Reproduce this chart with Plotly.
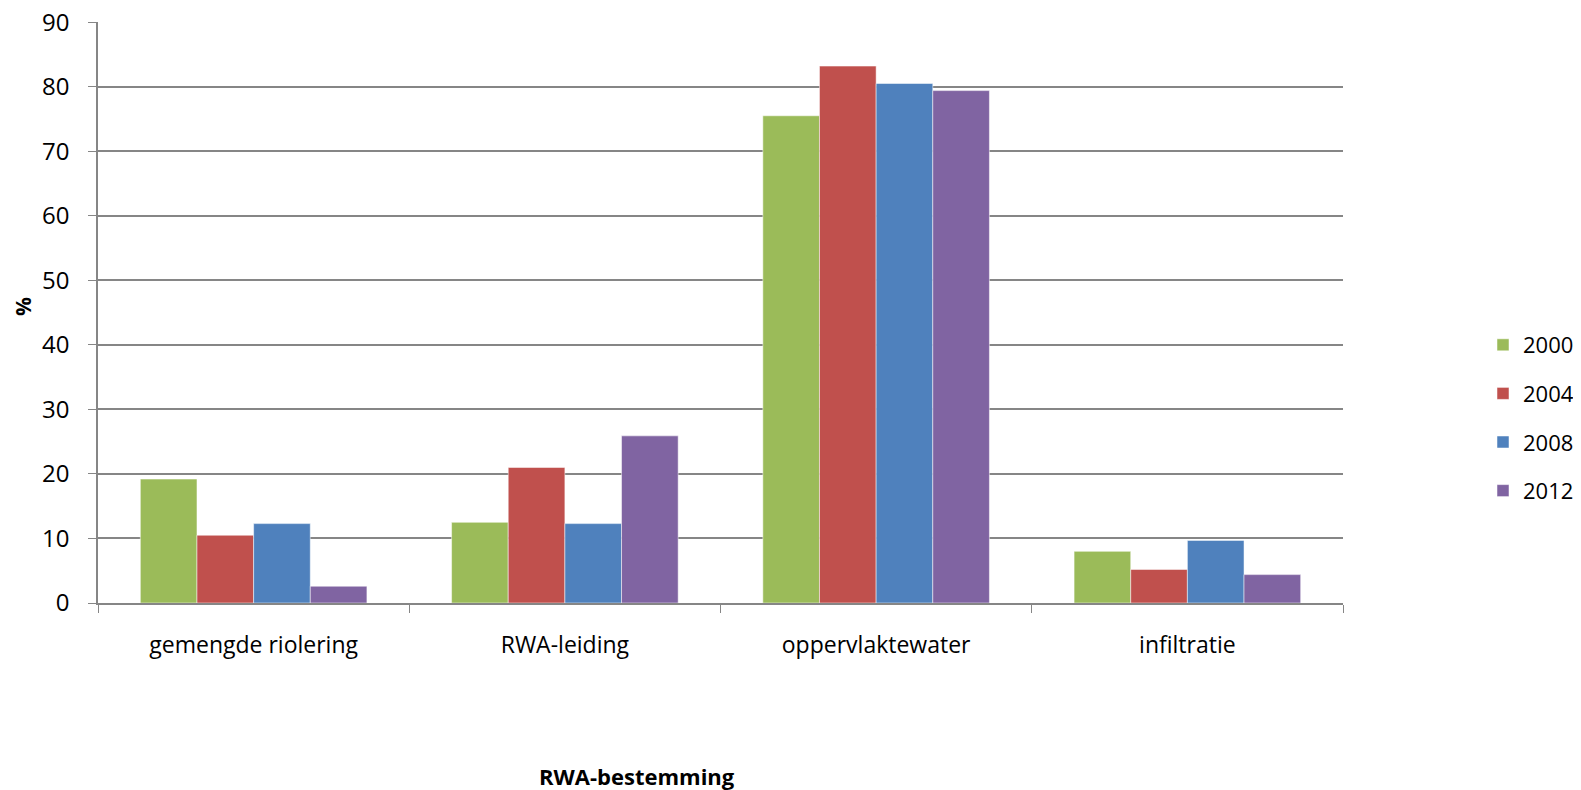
import plotly.graph_objects as go

categories = ["gemengde riolering", "RWA-leiding", "oppervlaktewater", "infiltratie"]
years = ["2000", "2004", "2008", "2012"]
v2000 = [19.2, 12.5, 75.5, 8.0]
v2004 = [10.5, 21.0, 83.2, 5.2]
v2008 = [12.3, 12.3, 80.5, 9.7]
v2012 = [2.6, 25.9, 79.4, 4.4]
series = [v2000, v2004, v2008, v2012]
colors = ["#9BBB59", "#C0504D", "#4F81BD", "#8064A2"]
yticks = [0, 10, 20, 30, 40, 50, 60, 70, 80, 90]

FONT = "Open Sans, Noto Sans, sans-serif"
# page body has an 8px margin; figure sized to fill the window exactly
W, H = 1573, 782
ML, MR, MT, MB = 90, 238, 14, 187
w_plot = W - ML - MR
h_plot = H - MT - MB

fig = go.Figure()
for name, vals, col in zip(years, series, colors):
    fig.add_trace(go.Bar(x=categories, y=vals, name=name, legendgroup=name,
                         marker=dict(color=col, line=dict(color="white", width=0.5))))

fig.update_layout(
    width=W, height=H,
    margin=dict(l=ML, r=MR, t=MT, b=MB, autoexpand=False),
    paper_bgcolor="white", plot_bgcolor="white",
    barmode="group", bargap=0.272, bargroupgap=0,
    font=dict(family=FONT, size=23, color="black"),
    showlegend=True,
    legend=dict(x=1475 / W, y=1 - 410 / H, xref="container", yref="container",
                xanchor="left", yanchor="middle", font=dict(size=22),
                itemwidth=30, bgcolor="rgba(0,0,0,0)", tracegroupgap=17),
    xaxis=dict(type="category", tickson="boundaries", ticks="outside", ticklen=8,
               tickcolor="#868686", showline=True, linecolor="#868686", linewidth=1.5,
               showgrid=False, ticklabelstandoff=21, tickfont=dict(size=23)),
    yaxis=dict(range=[0, 90.03], tickvals=yticks, ticks="outside", ticklen=8,
               tickcolor="#868686", showline=True, linecolor="#868686", linewidth=1.5,
               showgrid=True, gridcolor="#868686", gridwidth=1.5, zeroline=False,
               ticklabelstandoff=14, ticklabeloverflow="allow", tickfont=dict(size=24)),
    annotations=[
        dict(text="<b>%</b>", x=(15 - ML) / w_plot, y=(H - MB - 299) / h_plot,
             xref="paper", yref="paper", showarrow=False, textangle=-90,
             xanchor="center", yanchor="middle", font=dict(size=21)),
        dict(text="<b>RWA-bestemming</b>", x=(629 - ML) / w_plot, y=-(768 - (H - MB)) / h_plot,
             xref="paper", yref="paper", showarrow=False,
             xanchor="center", yanchor="middle", font=dict(size=22)),
    ],
)

fig.write_html("out.html")
